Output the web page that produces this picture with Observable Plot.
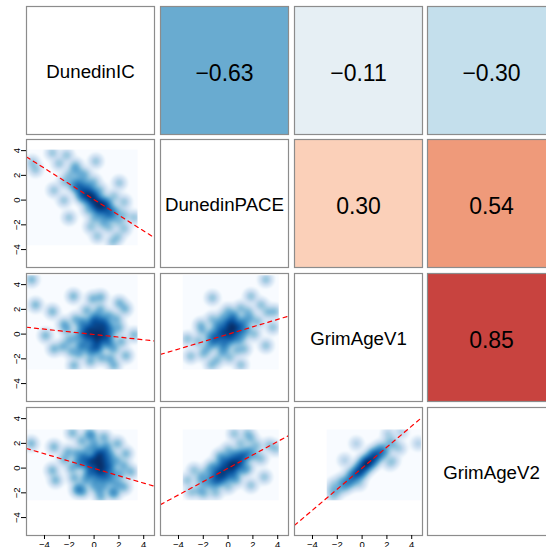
<!DOCTYPE html>
<html><head><meta charset="utf-8">
<script src="https://cdn.jsdelivr.net/npm/d3@7"></script>
<script src="https://cdn.jsdelivr.net/npm/@observablehq/plot@0.6"></script>
<style>
html,body{margin:0;padding:0;background:#fff;}
#chart{position:relative;width:546px;height:547px;overflow:hidden;}
#chart svg{position:absolute;overflow:visible;background:transparent;}
</style></head><body><div id="chart"></div>
<script>
// ---------- data ----------
const variables = ["DunedinIC", "DunedinPACE", "GrimAgeV1", "GrimAgeV2"];
const corrPairs = [[0,1],[0,2],[0,3],[1,2],[1,3],[2,3]];
const corrValues = [-0.63, -0.11, -0.30, 0.30, 0.54, 0.85];
const fitIntercepts = [0.04, -0.03, -0.03, -0.01, -0.01, 0.0];
const fitSlopes = [-0.633, -0.107, -0.296, 0.30, 0.54, 0.85];
const varRangeMin = [-5.4, -3.65, -2.85, -2.6];
const varRangeMax = [3.5, 4.08, 4.76, 3.12];
const axisTicks = [-4, -2, 0, 2, 4];
const xLimits = [-5.45, 4.87];
const yLimits = [-5.45, 4.9];
const corrColorStops = [-1, -0.75, -0.5, -0.25, 0, 0.25, 0.5, 0.75, 1];
const corrColorRange = ["#2166AC","#4393C3","#92C5DE","#D1E5F0","#F7F7F7","#FDDBC7","#F4A582","#D6604D","#B2182B"];
const densityStops = [0, 1/9, 2/9, 3/9, 4/9, 5/9, 6/9, 7/9, 8/9, 1];
const densityRange = ["#FFFFFF","#F7FBFF","#DEEBF7","#C6DBEF","#9ECAE1","#6BAED6","#4292C6","#2171B5","#08519C","#08306B"];

// point clouds (x, y)
const cloudIC_PACE = [
 [-3.37,3.82],[-2.21,3.63],[-4.99,3.04],[-4.72,2.47],[-2.83,2.95],[-1.48,2.82],[0.14,3.14],[-3.24,0.79],[-2.43,-0.02],
 [-2.02,-1.42],[2.03,1.39],[2.43,-0.15],[3.24,-1.42],[2.43,-2.31],[0.27,-2.93],[1.49,-3.39],[1.89,-2.98],[-0.27,-2.17],
 [0,0],[0.3,-0.3],[-0.3,0.2],[0.5,-0.5],[-0.5,0.4],[0.8,-0.6],[-0.8,0.7],[0.2,0.3],[-0.2,-0.3],[1.0,-1.0],[-1.0,1.0],
 [0.6,0.0],[-0.6,-0.1],[1.3,-0.7],[-1.3,0.9],[0.1,-0.8],[-0.1,0.8],[1.5,-1.4],[-1.5,1.5],[0.9,-1.5],[-0.9,1.6],[1.8,-0.9],
 [-1.8,1.2],[0.4,-1.2],[-0.4,1.2],[2.0,-1.7],[-2.0,2.0],[1.1,-0.2],[-1.1,0.3],[0.7,-1.9],[-0.7,2.1],[2.4,-1.2],[-2.4,1.5],
 [0.0,-1.5],[0.0,1.5],[1.6,0.3],[-1.6,2.5],[-1.2,2.2],[1.2,-2.2],[0.5,0.8],[-0.5,-0.8],
 [0.15,-0.1],[-0.15,0.1],[0.4,-0.4],[-0.4,0.35],[0.7,-0.35],[-0.7,0.45],[0.3,-0.7],[-0.3,0.6],[1.0,-0.6],[-1.0,0.6],
 [0.6,-0.9],[-0.6,1.0],[1.2,-1.2],[-1.2,1.3],[0.0,-0.4],[0.0,0.4],[0.9,-0.2],[-0.9,0.2],[1.4,-1.0],[-1.4,1.0]
];
const cloudIC_V1 = [
 [-5.04,4.41],[-4.72,2.36],[-3.37,1.82],[-1.67,3.06],[-0.13,2.85],[0.54,2.98],[2.03,2.52],[2.49,2.04],[-3.91,-0.12],
 [-3.24,-1.2],[3.24,-0.07],[2.57,-1.74],[-1.62,-2.55],[1.62,-2.55],[-2.43,0.82],
 [0,0],[0.4,0.3],[-0.4,-0.2],[0.3,-0.5],[-0.3,0.5],[0.8,0.1],[-0.8,-0.1],[0.1,0.9],[-0.1,-0.9],[1.0,-0.7],[-1.0,0.7],
 [0.9,0.9],[-0.9,-0.9],[1.4,0.2],[-1.4,-0.3],[0.2,1.5],[-0.2,-1.5],[1.6,-1.2],[-1.5,1.2],[1.2,1.5],[-1.2,-1.6],[2.0,0.5],
 [-2.0,-0.5],[0.6,-1.9],[-0.6,1.9],[2.2,-0.6],[-2.2,0.4],[0.5,2.0],[-0.3,-2.2],[1.8,1.2],[-1.8,-1.4],[0.7,0.6],[-0.6,0.1],
 [0.2,-0.3],[1.1,-0.2],[-1.1,-1.0],[0.0,1.2],[0.3,-1.2],[-2.5,-1.0],[1.3,-2.0],
 [0.1,0.2],[0.5,0.0],[-0.3,0.2],[0.2,0.6],[0.0,-0.4],[0.6,-0.3],[-0.5,0.5],[0.9,0.4],[-0.6,-0.5],[0.4,-0.8],
 [-0.2,1.0],[1.2,0.6],[-1.0,0.2],[0.7,1.2],[0.2,-1.1],[1.0,-0.3],[-0.9,1.0],[0.5,0.9],[-0.4,-1.2],[1.3,-0.8]
];
const cloudIC_V2 = [
 [-5.07,1.98],[-3.24,1.71],[-1.75,2.85],[-0.40,2.79],[1.89,1.98],[2.57,1.17],[-3.37,-0.18],[-3.1,-0.99],[2.97,-0.31],
 [2.43,-1.53],[-1.35,-1.8],[0.54,-2.34],[1.62,-2.07],
 [0.2,0.2],[0.5,-0.2],[-0.2,0.5],[0.7,0.4],[-0.3,-0.3],[0.9,-0.5],[-0.8,0.8],[0.3,1.0],[0.1,-0.9],[1.2,0.0],[-1.1,0.3],
 [0.6,1.3],[-0.5,1.5],[1.4,-1.0],[-1.4,1.2],[0.8,-1.4],[-0.7,-1.0],[1.8,0.6],[-1.8,0.0],[0.0,2.0],[0.4,-1.8],[2.1,-0.5],
 [-2.1,1.3],[1.0,1.8],[-1.0,2.2],[1.5,-1.9],[-1.6,-0.8],[2.4,0.2],[-2.4,0.7],[0.5,0.6],[-0.4,0.2],[1.1,0.7],[0.3,-0.4],
 [-1.2,-1.6],[1.9,-1.3],[-0.2,2.6],[0.8,2.5],[-0.9,-1.9],[0.0,-1.4],[1.3,1.1],
 [0.3,0.3],[0.6,0.1],[0.0,0.6],[0.9,0.0],[-0.3,0.7],[0.4,-0.3],[0.2,0.9],[0.8,0.8],[-0.6,0.4],[1.0,-0.7],
 [0.5,1.1],[-0.2,-0.2],[1.3,0.3],[-0.9,1.0],[0.6,-0.9],[0.1,1.5],[1.5,-0.4],[-0.5,-0.6],[0.9,1.4],[-1.3,0.5]
];
const cloudPACE_V1 = [
 [3.05,4.41],[-1.27,2.93],[1.84,3.06],[2.65,2.36],[3.78,1.82],[3.19,1.77],[-3.29,-0.39],[-3.02,-1.79],[-2.21,0.74],
 [-1.35,-2.5],[1.03,-2.5],[3.05,-0.93],[3.59,0.55],
 [0,0.2],[0.4,0.5],[-0.4,-0.1],[0.3,-0.3],[-0.3,0.6],[0.8,0.3],[-0.8,-0.4],[0.2,1.0],[-0.2,-0.8],[1.1,0.9],[-1.1,-0.7],
 [0.9,-0.5],[-0.9,0.6],[1.5,0.4],[-1.5,-0.2],[0.5,1.5],[-0.5,-1.5],[1.8,1.3],[-1.7,-1.2],[1.3,-1.2],[-1.3,1.2],[2.1,0.0],
 [-2.1,0.3],[0.0,1.9],[0.1,-1.9],[2.4,1.0],[-2.4,-0.6],[1.0,2.1],[-0.9,-2.1],[0.6,0.7],[-0.6,0.1],[0.2,-0.5],[1.2,-0.1],
 [-1.2,0.1],[0.7,-1.3],[-0.4,1.4],[1.6,1.8],[-2.0,-1.6],[0.3,0.2],[-0.1,0.9],
 [0.0,0.3],[0.3,0.6],[-0.3,0.1],[0.6,0.3],[-0.6,0.3],[0.2,-0.1],[0.1,0.8],[-0.2,-0.4],[0.9,0.7],[-0.9,-0.2],
 [0.5,1.1],[-0.5,-0.8],[1.2,0.4],[-1.2,-0.4],[0.7,-0.2],[-0.7,0.9],[0.3,1.4],[-0.3,-1.2],[1.4,1.1],[-1.4,-0.8]
];
const cloudPACE_V2 = [
 [-3.29,-0.99],[-2.97,-1.93],[-2.75,-0.18],[-1.94,-2.07],[0.49,2.79],[1.57,2.79],[1.84,2.39],[3.32,1.85],[3.86,1.58],
 [2.65,0.77],[1.84,-1.39],[2.92,-0.72],[-2.21,-0.99],
 [0,0],[0.4,0.3],[-0.4,-0.3],[0.3,-0.2],[-0.3,0.3],[0.8,0.6],[-0.8,-0.5],[0.2,0.8],[-0.2,-0.8],[1.1,0.4],[-1.1,-0.4],
 [0.9,1.2],[-0.9,-1.1],[1.5,0.9],[-1.5,-0.9],[0.5,-0.6],[-0.5,0.6],[1.8,1.4],[-1.8,-1.3],[1.3,-0.2],[-1.3,0.2],[2.1,1.0],
 [-2.1,-0.6],[0.0,1.5],[0.0,-1.5],[2.3,1.8],[-2.3,-1.8],[1.0,2.0],[-1.0,-2.0],[0.6,0.2],[-0.6,-0.1],[0.1,0.4],[1.2,0.9],
 [-1.2,-1.4],[0.7,-1.0],[-0.7,1.0],[1.6,0.0],[-1.6,-0.2],[-0.5,-0.9],[0.4,1.1],
 [0.0,-0.1],[0.3,0.1],[-0.3,-0.3],[0.6,0.4],[-0.6,-0.5],[0.2,0.5],[-0.2,-0.6],[0.9,0.5],[-0.9,-0.7],[0.5,-0.2],
 [-0.5,0.2],[1.2,1.0],[-1.2,-0.9],[0.7,0.9],[-0.7,-1.1],[1.0,0.0],[-1.0,0.0],[0.3,-0.7],[-0.3,0.8],[1.5,1.3]
];
const cloudV1_V2 = [
 [4.52,1.98],[3.17,2.93],[2.09,2.79],[-0.47,1.98],[-1.41,0.63],[-2.5,-1.8],[-2.36,-2.34],[2.5,0.63],[2.23,0.36],
 [3.04,1.58],[-0.2,-1.26],
 [0,0],[0.4,0.35],[-0.4,-0.35],[0.8,0.7],[-0.8,-0.7],[0.2,0.4],[-0.2,-0.4],[0.3,0.0],[-0.3,0.0],[1.2,1.0],[-1.2,-1.0],
 [0.6,0.9],[-0.6,-0.9],[1.0,0.5],[-1.0,-0.5],[1.6,1.4],[-1.6,-1.3],[1.4,1.7],[-1.4,-1.6],[1.9,1.4],[-1.9,-1.7],[0.1,0.6],
 [-0.1,-0.6],[0.7,0.3],[-0.7,-0.3],[2.1,2.0],[-2.1,-2.0],[0.9,1.3],[-0.9,-1.3],[1.7,1.0],[-1.7,-1.0],[0.5,0.6],[-0.5,-0.5],
 [1.3,1.2],[-1.3,-1.3],[2.4,2.2],[0.2,-0.2],[-0.2,0.2],[2.6,1.8],[-2.3,-1.3],
 [0.3,0.2],[0.6,0.5],[0.0,-0.1],[0.9,0.8],[-0.3,-0.2],[0.5,0.2],[0.2,0.5],[1.1,0.8],[-0.5,-0.6],[0.8,1.1],
 [1.4,1.3],[-0.8,-0.9],[0.4,0.7],[1.0,1.2],[-0.1,-0.4],[0.7,0.5],[1.7,1.5],[-1.1,-1.1],[0.1,0.2],[1.2,0.9]
];
const clouds = [cloudIC_PACE, cloudIC_V1, cloudIC_V2, cloudPACE_V1, cloudPACE_V2, cloudV1_V2];

// ---------- layout ----------
const PITCH = 133.8, SIZE = 128, LEFT0 = 26, TOP0 = 5.5;
const FONT = '"Liberation Sans", Arial, Helvetica, sans-serif';
const BORDER = "#8c8c8c";
const BANDWIDTH = 0.32, POWER = 0.42, FLOOR = 0.1;

const corrColor = Plot.scale({color: {type: "linear", domain: corrColorStops, range: corrColorRange, interpolate: "rgb"}});
const baseStyle = {fontFamily: FONT, fontSize: "9.5px", overflow: "visible", background: "transparent"};

function pairIndex(a, b) { return corrPairs.findIndex(([p, q]) => p === a && q === b); }

function makeDensity(points, xr, yr) {
  const h2 = 2 * BANDWIDTH * BANDWIDTH;
  const f = (x, y) => { let s = 0; for (const [px, py] of points) { const dx = x - px, dy = y - py; s += Math.exp(-(dx*dx + dy*dy) / h2); } return s; };
  let max = 0;
  for (let i = 0; i <= 120; i++) for (let j = 0; j <= 120; j++) {
    const v = f(xr[0] + (xr[1] - xr[0]) * i / 120, yr[0] + (yr[1] - yr[0]) * j / 120);
    if (v > max) max = v;
  }
  return (x, y) => Math.max(FLOOR, Math.pow(f(x, y) / max, POWER));
}

function diagPanel(i) {
  return Plot.plot({width: SIZE, height: SIZE, margin: 0, style: baseStyle,
    marks: [
      Plot.frame({stroke: BORDER, strokeWidth: 1.2, fill: "white"}),
      Plot.text([variables[i]], {frameAnchor: "middle", text: d => d, fontSize: 18.7, dy: 2, fill: "black"})
    ]});
}

function upperPanel(k) {
  const r = corrValues[k];
  return Plot.plot({width: SIZE, height: SIZE, margin: 0, style: baseStyle,
    marks: [
      Plot.frame({stroke: BORDER, strokeWidth: 1.2, fill: corrColor.apply(r)}),
      Plot.text([r], {frameAnchor: "middle", text: d => d3.format(".2f")(d).replace("-", "\u2212"), fontSize: 23, dy: 3, fill: "black"})
    ]});
}

function lowerPanel(k, xi, yi, showY, showX) {
  const xr = [varRangeMin[xi], varRangeMax[xi]];
  const yr = [varRangeMin[yi], varRangeMax[yi]];
  const dens = makeDensity(clouds[k], xr, yr);
  const fitLine = xLimits.map(x => ({x, y: fitIntercepts[k] + fitSlopes[k] * x}));
  const marks = [
    Plot.frame({fill: "white"}),
    Plot.raster({x1: xr[0], x2: xr[1], y1: yr[0], y2: yr[1], fill: dens, pixelSize: 1}),
    Plot.line(fitLine, {x: "x", y: "y", stroke: "#ff0000", strokeWidth: 1.2, strokeDasharray: "4,4", clip: true}),
    Plot.frame({stroke: BORDER, strokeWidth: 1.2})
  ];
  if (showY) marks.push(Plot.axisY({ticks: axisTicks, tickSize: 5, tickPadding: 2, tickRotate: -90, fontSize: 9.5, label: null}));
  if (showX) marks.push(Plot.axisX({ticks: axisTicks, tickSize: 4, tickPadding: 2, fontSize: 9.5, label: null}));
  return Plot.plot({width: SIZE, height: SIZE, margin: 0, style: baseStyle,
    x: Object.assign({domain: xLimits}, showX ? {} : {axis: null}),
    y: Object.assign({domain: yLimits}, showY ? {} : {axis: null}),
    color: {type: "linear", domain: densityStops, range: densityRange, interpolate: "rgb", clamp: true},
    marks});
}

const chart = document.getElementById("chart");
for (let r = 0; r < 4; r++) for (let c = 0; c < 4; c++) {
  let svg;
  if (r === c) svg = diagPanel(r);
  else if (r < c) svg = upperPanel(pairIndex(r, c));
  else svg = lowerPanel(pairIndex(c, r), c, r, c === 0, r === 3);
  svg.style.left = (LEFT0 + c * PITCH) + "px";
  svg.style.top = (TOP0 + r * PITCH) + "px";
  chart.appendChild(svg);
}
</script></body></html>
